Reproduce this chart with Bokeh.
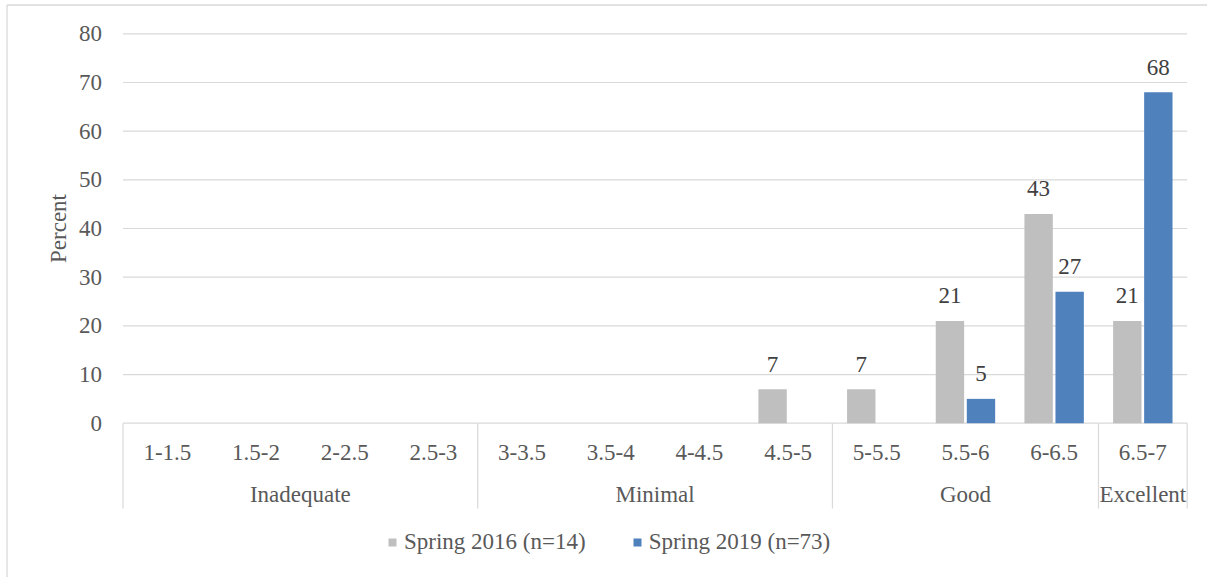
from math import pi

from bokeh.embed import file_html
from bokeh.models import ColumnDataSource, Legend, LegendItem, Range1d
from bokeh.plotting import figure
from bokeh.resources import INLINE

# Score bins and their quality bands
bins = ["1-1.5", "1.5-2", "2-2.5", "2.5-3", "3-3.5", "3.5-4",
        "4-4.5", "4.5-5", "5-5.5", "5.5-6", "6-6.5", "6.5-7"]
bands = ["Inadequate", "Minimal", "Good", "Excellent"]
band_sizes = [4, 4, 3, 1]

# Percent of classrooms in each bin
spring_2016 = [0, 0, 0, 0, 0, 0, 0, 7, 7, 21, 43, 21]
spring_2019 = [0, 0, 0, 0, 0, 0, 0, 0, 0, 5, 27, 68]

y_ticks = [0, 10, 20, 30, 40, 50, 60, 70, 80]

FONT = "Liberation Serif"
AXIS_TEXT = "#595959"
LABEL_TEXT = "#404040"
GRID = "#d9d9d9"
GRAY = "#bfbfbf"
BLUE = "#4f81bd"

W, H = 1207, 577
# pixel geometry of the plotting area (value 0 / 80 rows, first / last bin edge)
PX_X0, PX_PER_BIN = 122.5, 88.68
PX_Y0, PX_PER_UNIT = 422.7, 4.8675

x_start = -PX_X0 / PX_PER_BIN
x_end = (W - PX_X0) / PX_PER_BIN
y_end = PX_Y0 / PX_PER_UNIT
y_start = -(H - PX_Y0) / PX_PER_UNIT

p = figure(width=W, height=H, output_backend="svg", toolbar_location=None,
           x_range=Range1d(x_start, x_end), y_range=Range1d(y_start, y_end),
           min_border=0)
p.axis.visible = False
p.grid.visible = False
p.outline_line_color = None
p.background_fill_color = "white"
p.border_fill_color = "white"


def px_x(px):
    return (px - PX_X0) / PX_PER_BIN


def px_y(py):
    return (PX_Y0 - py) / PX_PER_UNIT


# chart area frame (left and top edges)
p.segment(x0=[px_x(6.5), px_x(6.5)], x1=[px_x(6.5), px_x(W + 5)],
          y0=[px_y(H + 5), px_y(4.5)], y1=[px_y(4.5), px_y(4.5)],
          line_color=GRID, line_width=1.3)

n = len(bins)
centers = [i + 0.5 for i in range(n)]

# horizontal gridlines and the category axis line
p.segment(x0=[0] * len(y_ticks), x1=[n] * len(y_ticks), y0=y_ticks, y1=y_ticks,
          line_color=GRID, line_width=1.2)

# band separators below the axis
edges = [0]
for s in band_sizes:
    edges.append(edges[-1] + s)
p.segment(x0=edges, x1=edges, y0=[0] * len(edges), y1=[px_y(508)] * len(edges),
          line_color=GRID, line_width=1.2)

offset = 0.175
bar_w = 0.32
src16 = ColumnDataSource(dict(x=[c - offset for c in centers], top=spring_2016))
src19 = ColumnDataSource(dict(x=[c + offset for c in centers], top=spring_2019))
r16 = p.vbar(x="x", top="top", width=bar_w, bottom=0, source=src16,
             fill_color=GRAY, line_color=None)
r19 = p.vbar(x="x", top="top", width=bar_w, bottom=0, source=src19,
             fill_color=BLUE, line_color=None)

# value labels over non-empty bars
for xs, vals in ((src16.data["x"], spring_2016), (src19.data["x"], spring_2019)):
    lx = [x for x, v in zip(xs, vals) if v > 0]
    ly = [v for v in vals if v > 0]
    p.text(x=lx, y=ly, text=[str(v) for v in ly], text_align="center",
           text_baseline="alphabetic", y_offset=-25, text_color=LABEL_TEXT,
           text_font=FONT, text_font_size="23px")

# y tick labels
p.text(x=[0] * len(y_ticks), y=y_ticks, text=[str(t) for t in y_ticks],
       text_align="right", text_baseline="middle", x_offset=-21,
       text_color=AXIS_TEXT, text_font=FONT, text_font_size="23px")

# y axis title
p.text(x=[0], y=[40], text=["Percent"], angle=pi / 2, text_align="center",
       text_baseline="middle", x_offset=-65, text_color=AXIS_TEXT,
       text_font=FONT, text_font_size="23px")

# bin labels
p.text(x=centers, y=[0] * n, text=bins, text_align="center", text_baseline="middle",
       y_offset=29, text_color=AXIS_TEXT, text_font=FONT, text_font_size="23px")

# band labels
band_centers = [(a + b) / 2 for a, b in zip(edges[:-1], edges[1:])]
p.text(x=band_centers, y=[0] * len(bands), text=bands, text_align="center",
       text_baseline="middle", y_offset=71, text_color=AXIS_TEXT, text_font=FONT,
       text_font_size="23px")

legend = Legend(items=[LegendItem(label="Spring 2016 (n=14)", renderers=[r16]),
                       LegendItem(label="Spring 2019 (n=73)", renderers=[r19])],
                orientation="horizontal", location=(387, 22),
                glyph_width=10, glyph_height=10, label_standoff=7, spacing=46,
                padding=0, margin=0, border_line_color=None,
                background_fill_alpha=0, label_text_font=FONT,
                label_text_font_size="23px", label_text_color=AXIS_TEXT)
p.add_layout(legend)

open("out.html", "w").write(file_html(p, INLINE))
